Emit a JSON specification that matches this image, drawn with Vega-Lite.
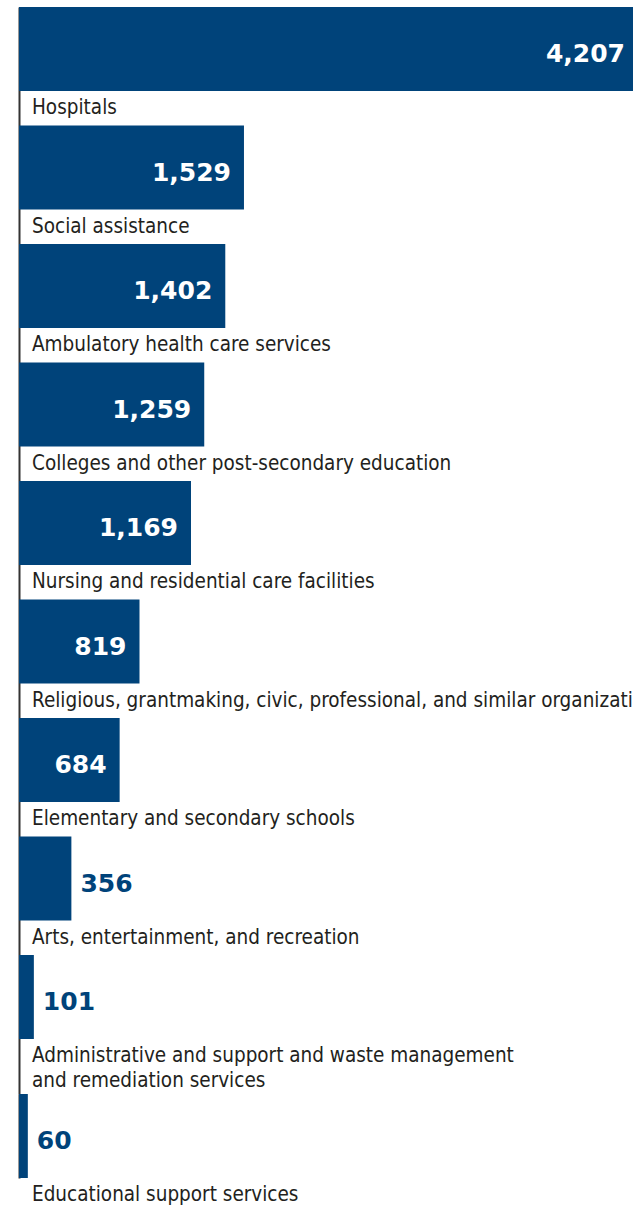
{
  "$schema": "https://vega.github.io/schema/vega-lite/v6.json",
  "padding": {"left": 19, "top": 7, "right": 0, "bottom": 0},
  "autosize": {"type": "pad"},
  "background": "white",
  "config": {"view": {"stroke": null}},
  "data": {"values": [
    {"category": "Hospitals", "label": "Hospitals", "value": 4207},
    {"category": "Social assistance", "label": "Social assistance", "value": 1529},
    {"category": "Ambulatory health care services", "label": "Ambulatory health care services", "value": 1402},
    {"category": "Colleges and other post-secondary education", "label": "Colleges and other post-secondary education", "value": 1259},
    {"category": "Nursing and residential care facilities", "label": "Nursing and residential care facilities", "value": 1169},
    {"category": "Religious, grantmaking, civic, professional, and similar organizations", "label": "Religious, grantmaking, civic, professional, and similar organizations", "value": 819},
    {"category": "Elementary and secondary schools", "label": "Elementary and secondary schools", "value": 684},
    {"category": "Arts, entertainment, and recreation", "label": "Arts, entertainment, and recreation", "value": 356},
    {"category": "Administrative and support and waste management and remediation services", "label": "Administrative and support and waste management\nand remediation services", "value": 101},
    {"category": "Educational support services", "label": "Educational support services", "value": 60}
  ]},
  "spacing": 0,
  "bounds": "flush",
  "vconcat": [
    {
      "width": 614,
      "height": 1087,
      "transform": [{"filter": "datum.category !== 'Educational support services'"}],
      "encoding": {
        "y": {"field": "category", "type": "nominal", "sort": null,
              "scale": {"paddingInner": 0.2911, "paddingOuter": 0.232, "align": 0},
              "axis": {"labels": false, "ticks": false, "title": null, "grid": false, "domainColor": "#333333", "domainWidth": 2}}
      },
      "layer": [
        {
          "mark": {"type": "bar", "color": "#00437a", "clip": true},
          "encoding": {"x": {"field": "value", "type": "quantitative", "scale": {"domain": [0, 4173], "nice": false}, "axis": null}}
        },
        {
          "transform": [{"filter": "datum.value >= 500"}],
          "mark": {"type": "text", "align": "right", "baseline": "alphabetic", "dx": -13, "dy": 13, "color": "white", "font": "DejaVu Sans", "fontWeight": "bold", "fontSize": 25},
          "encoding": {"x": {"field": "value", "type": "quantitative"}, "text": {"field": "value", "type": "quantitative", "format": ",d"}}
        },
        {
          "transform": [{"filter": "datum.value < 500"}],
          "mark": {"type": "text", "align": "left", "baseline": "alphabetic", "dx": 9, "dy": 13, "color": "#00437a", "font": "DejaVu Sans", "fontWeight": "bold", "fontSize": 25},
          "encoding": {"x": {"field": "value", "type": "quantitative"}, "text": {"field": "value", "type": "quantitative", "format": ",d"}}
        },
        {
          "mark": {"type": "text", "align": "left", "baseline": "alphabetic", "dx": 13, "dy": 65, "color": "#231f20", "font": "DejaVu Sans Condensed, Roboto Condensed, Arial Narrow, Roboto", "fontSize": 20.5, "lineBreak": "\n", "lineHeight": 25, "clip": true},
          "encoding": {"x": {"datum": 0, "type": "quantitative"}, "text": {"field": "label", "type": "nominal"}}
        }
      ]
    },
    {
      "width": 614,
      "height": 84,
      "transform": [{"filter": "datum.category === 'Educational support services'"}],
      "encoding": {
        "y": {"field": "category", "type": "nominal", "sort": null,
              "scale": {"paddingInner": 0, "paddingOuter": 0},
              "axis": {"labels": false, "ticks": false, "title": null, "grid": false, "domainColor": "#333333", "domainWidth": 2}}
      },
      "layer": [
        {
          "mark": {"type": "bar", "color": "#00437a", "clip": true},
          "encoding": {"x": {"field": "value", "type": "quantitative", "scale": {"domain": [0, 4173], "nice": false}, "axis": null}}
        },
        {
          "mark": {"type": "text", "align": "left", "baseline": "alphabetic", "dx": 9, "dy": 13, "color": "#00437a", "font": "DejaVu Sans", "fontWeight": "bold", "fontSize": 25},
          "encoding": {"x": {"field": "value", "type": "quantitative"}, "text": {"field": "value", "type": "quantitative", "format": ",d"}}
        },
        {
          "mark": {"type": "text", "align": "left", "baseline": "alphabetic", "dx": 13, "dy": 65, "color": "#231f20", "font": "DejaVu Sans Condensed, Roboto Condensed, Arial Narrow, Roboto", "fontSize": 20.5},
          "encoding": {"x": {"datum": 0, "type": "quantitative"}, "text": {"field": "label", "type": "nominal"}}
        }
      ]
    }
  ]
}
